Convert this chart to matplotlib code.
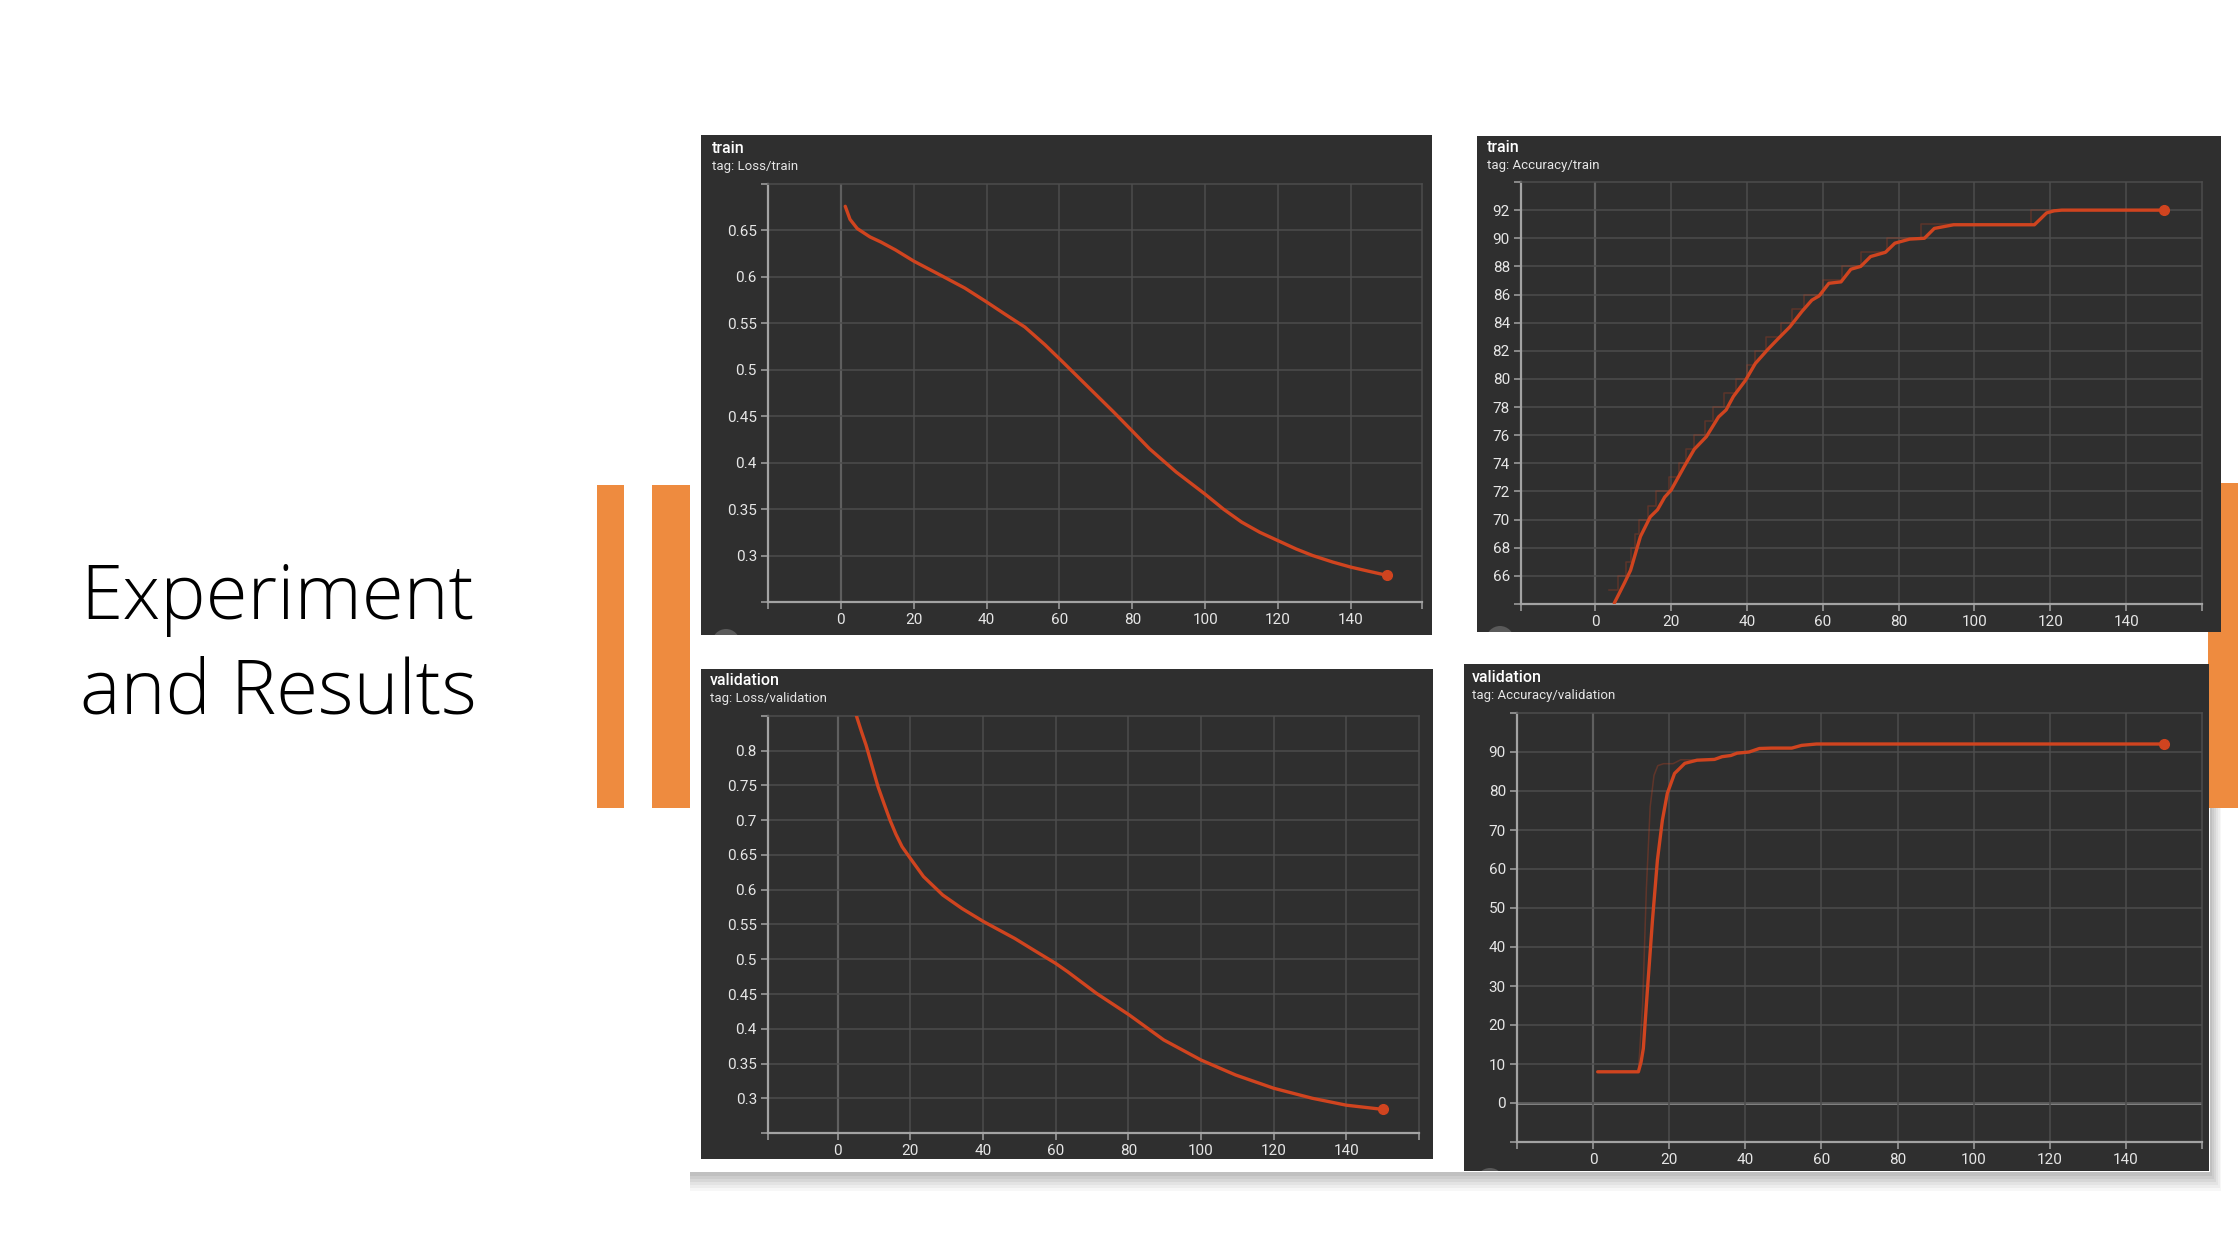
import matplotlib
matplotlib.use("Agg")
import matplotlib.pyplot as plt
from matplotlib.patches import Rectangle, Ellipse
from matplotlib.ticker import FuncFormatter

W, H = 2238, 1236

# ---- data ----
loss_train_x = [1.2, 2.5, 4.5, 8, 11, 15, 20, 28, 34, 40, 45, 50.5, 56, 61, 68, 75, 80, 84.7,
                92, 100, 105, 110, 115, 120, 125, 129.5, 135, 140, 145, 150]
loss_train_y = [0.676, 0.662, 0.652, 0.643, 0.6375, 0.629, 0.617, 0.6005, 0.588, 0.573, 0.56,
                0.546, 0.527, 0.508, 0.481, 0.454, 0.434, 0.415, 0.390, 0.366, 0.350, 0.336,
                0.325, 0.316, 0.307, 0.300, 0.293, 0.2875, 0.283, 0.2786]

acc_train_x = [5.0, 7.7, 9.3, 11.9, 14.5, 16.4, 18.3, 20, 23.5, 26.1, 29.3, 32.5, 34.5, 36.4,
               39.6, 42.2, 45.5, 48, 51.3, 54.5, 57.1, 59, 61.6, 64.8, 67.4, 70, 72.6, 76.5,
               79, 82.9, 86.8, 89.4, 94.5, 115.8, 117.5, 119, 121, 123, 150]
acc_train_y = [64.06, 65.5, 66.4, 68.8, 70.2, 70.7, 71.6, 72.1, 73.8, 75.0, 75.9, 77.3, 77.8,
               78.75, 79.9, 81.1, 82.1, 82.8, 83.7, 84.8, 85.6, 85.9, 86.8, 86.9, 87.8, 88.0,
               88.7, 89.0, 89.65, 89.94, 90.0, 90.7, 90.96, 90.96, 91.4, 91.8, 91.95, 92.0, 92.0]
# raw (unsmoothed) accuracy steps
acc_train_raw_x = [3.5, 6, 8, 9.5, 10.5, 11.5, 14, 16, 19.5, 22, 24, 26, 29, 31, 34, 37, 40,
                   42, 45, 49, 52, 55, 60, 65, 70, 77, 86, 115, 150]
acc_train_raw_y = [65, 66, 67, 68, 69, 70, 71, 72, 73, 74, 75, 76, 77, 78, 79, 80, 81, 82, 83,
                   84, 85, 86, 87, 88, 89, 90, 91, 92, 92]

loss_val_x = [5.15, 6.5, 7.8, 9.5, 11.1, 12.8, 14.4, 16, 17.7, 20, 23.6, 28.9, 34.2, 40.2,
              48.7, 54, 60, 63.3, 71.2, 80.2, 89.7, 100, 109.5, 120, 130.6, 140, 150]
loss_val_y = [0.85, 0.828, 0.808, 0.777, 0.748, 0.723, 0.700, 0.680, 0.662, 0.645, 0.619,
              0.5924, 0.573, 0.554, 0.530, 0.513, 0.494, 0.482, 0.451, 0.420, 0.384, 0.355,
              0.3335, 0.3144, 0.300, 0.290, 0.284]

acc_val_x = [1.2, 11.9, 12.6, 13.2, 14.2, 15.6, 16.9, 18.2, 19.5, 21.4, 24.1, 27.3, 31.9, 33.9,
             36.2, 37.8, 41, 43.7, 46.9, 52.2, 54.8, 58.7, 150]
acc_val_y = [8.0, 8.0, 10.5, 14, 28, 46.9, 62.3, 72.5, 79.4, 84.5, 87.1, 87.9, 88.1, 88.8,
             89.1, 89.7, 90.0, 90.9, 91.0, 91.0, 91.7, 92.05, 92.05]
acc_val_raw_x = [11.9, 13, 14, 15, 16, 17, 18.5, 21, 23, 28]
acc_val_raw_y = [8.0, 25, 55, 76, 84, 86.5, 87, 87, 88, 88]

slide_title = ["Experiment", "and Results"]

LINE = "#d0441f"
BG = "#2f2f2f"
GRID = "#4d4d4d"
AXIS = "#a3a3a3"
TXT = "#e6e6e6"
ORANGE = "#ee8b3f"

plt.rcParams["font.family"] = ["Roboto", "DejaVu Sans"]

fig = plt.figure(figsize=(W / 100, H / 100), dpi=100)
fig.patch.set_facecolor("white")


def rect(x0, y0, x1, y1):
    return [x0 / W, 1 - y1 / H, (x1 - x0) / W, (y1 - y0) / H]


def fig_rect(x0, y0, x1, y1, **kw):
    r = Rectangle((x0 / W, 1 - y1 / H), (x1 - x0) / W, (y1 - y0) / H,
                  transform=fig.transFigure, **kw)
    fig.add_artist(r)
    return r


# orange decoration bars behind the card
fig_rect(597, 485, 624, 808, facecolor=ORANGE, edgecolor="none", zorder=-10)
fig_rect(652, 485, 700, 808, facecolor=ORANGE, edgecolor="none", zorder=-10)

# card shadow + white card
for i, a in enumerate([0.05, 0.05, 0.05, 0.04, 0.04, 0.03]):
    d = 4 + i * 3
    fig_rect(690, 140, 2210 + d * 0.6, 1172 + d, facecolor="black", edgecolor="none",
             alpha=a, zorder=-9)
fig_rect(690, 125, 2210, 1172, facecolor="white", edgecolor="none", zorder=-8)
fig_rect(2208, 483, 2240, 808, facecolor=ORANGE, edgecolor="none", zorder=-7)

# slide title
for txt, base in zip(slide_title, [619, 714]):
    fig.text(80 / W, 1 - base / H, txt, family=["Open Sans", "DejaVu Sans"], weight=300,
             fontsize=55, color="black", va="baseline", ha="left")


def fmt(v, pos):
    return "{:g}".format(round(v, 4))


def panel(box, plot, title, tag, tpos, xlim, ylim, yticks, bump=None, hzero=False):
    bg = fig.add_axes(rect(*box))
    bg.set_facecolor(BG)
    bg.set_xticks([])
    bg.set_yticks([])
    for s in bg.spines.values():
        s.set_visible(False)
    if bump is not None:
        bg.add_patch(Ellipse((bump[0] / W, 1 - bump[1] / H), 28 / W, 28 / H,
                             transform=fig.transFigure, facecolor="#5a5a5a", edgecolor="none"))

    ax = fig.add_axes(rect(*plot))
    ax.set_facecolor(BG)
    ax.set_xlim(*xlim)
    ax.set_ylim(*ylim)
    ax.set_xticks(range(0, 141, 20))
    ax.set_yticks(yticks)
    ax.set_xticks(list(xlim), minor=True)
    ax.set_yticks(list(ylim), minor=True)
    ax.yaxis.set_major_formatter(FuncFormatter(fmt))
    ax.grid(True, which="major", color=GRID, lw=1.1)
    ax.tick_params(which="both", colors=AXIS, labelcolor=TXT, length=5, width=1.1,
                   labelsize=11, pad=3)
    for s in ["left", "bottom"]:
        ax.spines[s].set_color(AXIS)
        ax.spines[s].set_linewidth(1.6)
    for s in ["top", "right"]:
        ax.spines[s].set_color(GRID)
        ax.spines[s].set_linewidth(1.1)
    ax.axvline(0, color="#9c9c9c", lw=1.5, zorder=1.5)
    if hzero:
        ax.axhline(0, color="#9c9c9c", lw=1.8, zorder=1.5)

    fig.text(tpos[0] / W, 1 - tpos[1] / H, title, color="white", fontsize=11.5,
             weight="medium", va="baseline")
    fig.text(tpos[0] / W, 1 - (tpos[1] + 17) / H, tag, color=TXT, fontsize=9.5,
             va="baseline")
    return ax


ax1 = panel((701, 135, 1432, 635), (768, 184, 1422, 602), "train", "tag: Loss/train",
            (712, 153), (-20, 159.5), (0.25, 0.70), [0.3, 0.35, 0.4, 0.45, 0.5, 0.55, 0.6, 0.65],
            bump=(726, 643))
ax1.plot(loss_train_x, loss_train_y, color=LINE, lw=2.4, solid_capstyle="round", zorder=3)
ax1.plot(loss_train_x[-1], loss_train_y[-1], "o", color=LINE, ms=7, zorder=4)

ax2 = panel((1477, 136, 2221, 632), (1521, 182, 2202, 604), "train", "tag: Accuracy/train",
            (1487, 152), (-19.6, 160), (64, 94), list(range(66, 93, 2)), bump=(1500, 640))
ax2.plot(acc_train_raw_x, acc_train_raw_y, color=LINE, lw=1.1, alpha=0.28,
         drawstyle="steps-post", zorder=2.5)
ax2.plot(acc_train_x, acc_train_y, color=LINE, lw=2.4, solid_capstyle="round", zorder=3)
ax2.plot(acc_train_x[-1], acc_train_y[-1], "o", color=LINE, ms=7, zorder=4)

ax3 = panel((701, 669, 1433, 1159), (768, 716, 1419, 1133), "validation", "tag: Loss/validation",
            (710, 685), (-19.2, 160), (0.25, 0.85), [0.3, 0.35, 0.4, 0.45, 0.5, 0.55, 0.6, 0.65,
                                                     0.7, 0.75, 0.8])
ax3.plot(loss_val_x, loss_val_y, color=LINE, lw=2.4, solid_capstyle="round", zorder=3)
ax3.plot(loss_val_x[-1], loss_val_y[-1], "o", color=LINE, ms=7, zorder=4)

ax4 = panel((1464, 664, 2209, 1171), (1517, 713, 2202, 1142), "validation",
            "tag: Accuracy/validation", (1472, 682), (-20, 160), (-10, 100),
            list(range(0, 91, 10)), bump=(1490, 1182), hzero=True)
ax4.plot(acc_val_raw_x, acc_val_raw_y, color=LINE, lw=1.1, alpha=0.3, zorder=2.5)
ax4.plot(acc_val_x, acc_val_y, color=LINE, lw=2.4, solid_capstyle="round", zorder=3)
ax4.plot(acc_val_x[-1], acc_val_y[-1], "o", color=LINE, ms=7, zorder=4)

fig.savefig("out.png", dpi=100, facecolor="white")
